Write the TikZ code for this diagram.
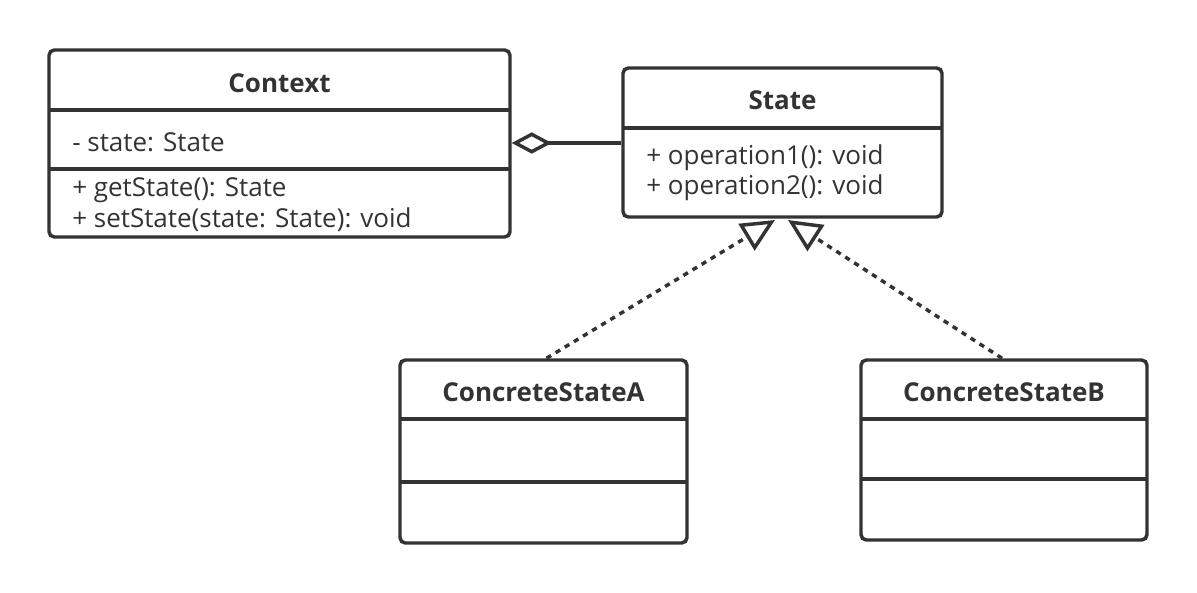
\documentclass[tikz,border=0pt]{standalone}
\usepackage{fontspec}
\setmainfont{Open Sans}
\usetikzlibrary{arrows.meta}
\definecolor{ink}{HTML}{333333}
\begin{document}
\begin{tikzpicture}[x=0.75pt,y=-0.75pt,
  umlbox/.style={draw=ink, line width=2.6pt, rounded corners=4pt, inner sep=0pt, fill=white},
  divider/.style={draw=ink, line width=2.6pt},
  title/.style={font=\fontsize{19.5}{22}\selectfont\bfseries, text=ink, inner sep=0pt},
  member/.style={font=\fontsize{19.5}{22}\selectfont, text=ink, inner sep=0pt, anchor=west},
  realize/.style={draw=ink, line width=2.6pt, dash pattern=on 4pt off 4pt,
     -{Triangle[open, length=25pt, width=23pt, line width=2.6pt]}},
  aggr/.style={draw=ink, line width=2.6pt,
     -{Diamond[open, length=30pt, width=16pt, line width=2.6pt]}}
]
\useasboundingbox (0,0) rectangle (1197,593);
\fill[white] (0,0) rectangle (1197,593);

% Context
\node[umlbox, minimum width=461*0.75pt, minimum height=187*0.75pt] (ctx) at (279.5,143.5) {};
\draw[divider] (49,110) -- (510,110);
\draw[divider] (49,169) -- (510,169);
\node[title] (ctxname) at (279.5,83) {Context};
\node[member] (ctxattr) at (72,142) {- state: State};
\node[member] (ctxop1) at (72,190) {+ getState(): State};
\node[member] (ctxop2) at (72,220) {+ setState(state: State): void};

% State
\node[umlbox, minimum width=319*0.75pt, minimum height=149*0.75pt] (st) at (782.5,142.5) {};
\draw[divider] (623,128) -- (942,128);
\node[title] (stname) at (782.5,100) {State};
\node[member] (stop1) at (646,158) {+ operation1(): void};
\node[member] (stop2) at (646,188) {+ operation2(): void};

% ConcreteStateA
\node[umlbox, minimum width=287*0.75pt, minimum height=183*0.75pt] (ca) at (543.5,451.5) {};
\draw[divider] (400,419) -- (687,419);
\draw[divider] (400,482) -- (687,482);
\node[title] (caname) at (543.5,392) {ConcreteStateA};

% ConcreteStateB
\node[umlbox, minimum width=286*0.75pt, minimum height=180*0.75pt] (cb) at (1004,450) {};
\draw[divider] (861,419) -- (1147,419);
\draw[divider] (861,479) -- (1147,479);
\node[title] (cbname) at (1004,392) {ConcreteStateB};

% connectors
\coordinate (tipA) at (775,220);
\coordinate (tipB) at (788,220);
\draw[realize] (ca.north) ++(3,0) -- (tipA);
\draw[realize] (cb.north) ++(-2,0) -- (tipB);
\draw[aggr] (st.west |- 0,143) -- (ctx.east |- 0,143);
\end{tikzpicture}
\end{document}
